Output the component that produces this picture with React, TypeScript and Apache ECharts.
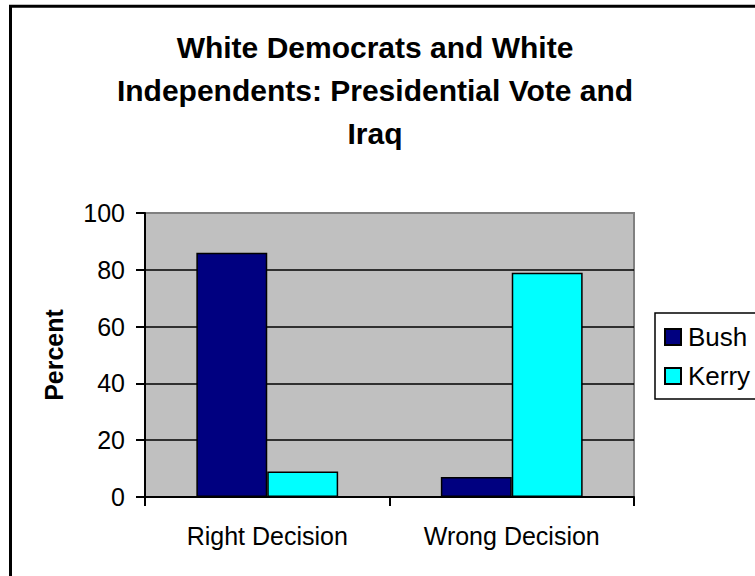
import React, { useEffect, useRef } from "react";
import * as echarts from "echarts";

const titleLines = ["White Democrats and White", "Independents: Presidential Vote and", "Iraq"];
const categories = ["Right Decision", "Wrong Decision"];
const bushValues = [86, 7];
const kerryValues = [9, 79];
const yTicks = { min: 0, max: 100, interval: 20 };
const yAxisName = "Percent";
const seriesNames = ["Bush", "Kerry"];

const FONT = "Arial, 'Liberation Sans', sans-serif";

export default function App() {
  const ref = useRef<HTMLDivElement>(null);
  useEffect(() => {
    if (!ref.current) return;
    const chart = echarts.init(ref.current, undefined, { renderer: "svg" });
    chart.setOption({
      animation: false,
      backgroundColor: "#ffffff",
      textStyle: { fontFamily: FONT, color: "#000" },
      graphic: [
        {
          type: "text",
          x: 375,
          y: 26,
          style: {
            text: titleLines.join("\n"),
            textAlign: "center",
            textVerticalAlign: "top",
            fontFamily: FONT,
            fontSize: 30,
            fontWeight: "bold",
            lineHeight: 43,
            fill: "#000",
          },
          silent: true,
        },
        {
          type: "rect",
          shape: { x: 10.5, y: 6.2, width: 900, height: 700 },
          style: { fill: "none", stroke: "#000", lineWidth: 3 },
          z: 100,
          silent: true,
        },
      ],
      legend: {
        orient: "vertical",
        left: 655,
        top: 313,
        padding: [11, 10, 10, 9],
        itemGap: 13,
        itemWidth: 16,
        itemHeight: 16,
        icon: "rect",
        borderColor: "#000",
        borderWidth: 1.5,
        backgroundColor: "#fff",
        textStyle: { fontFamily: FONT, fontSize: 26, color: "#000", lineHeight: 25, padding: [0, 0, 0, 2] },
        data: seriesNames,
      },
      grid: {
        left: 145,
        right: 121,
        top: 213,
        bottom: 79,
        show: true,
        backgroundColor: "#c0c0c0",
        borderColor: "#808080",
        borderWidth: 2,
      },
      xAxis: {
        type: "category",
        data: categories,
        axisLine: { show: true, lineStyle: { color: "#000", width: 2 } },
        axisTick: { show: true, length: 9, lineStyle: { color: "#000", width: 2 } },
        axisLabel: { fontFamily: FONT, fontSize: 25, color: "#000", margin: 26 },
      },
      yAxis: {
        type: "value",
        min: yTicks.min,
        max: yTicks.max,
        interval: yTicks.interval,
        name: yAxisName,
        nameLocation: "middle",
        nameGap: 79,
        nameTextStyle: { fontFamily: FONT, fontSize: 25, fontWeight: "bold", color: "#000" },
        axisLine: { show: true, lineStyle: { color: "#000", width: 2 } },
        axisTick: { show: true, length: 9, lineStyle: { color: "#000", width: 2 } },
        axisLabel: { fontFamily: FONT, fontSize: 25, color: "#000", margin: 20 },
        splitLine: { show: true, showMaxLine: false, showMinLine: false, lineStyle: { color: "#000", width: 1.5 } },
      },
      series: [
        {
          name: seriesNames[0],
          type: "bar",
          data: bushValues,
          barGap: "0%",
          barCategoryGap: "42%",
          itemStyle: { color: "#000080", borderColor: "#000", borderWidth: 1.5 },
        },
        {
          name: seriesNames[1],
          type: "bar",
          data: kerryValues,
          barGap: "0%",
          barCategoryGap: "42%",
          itemStyle: { color: "#00ffff", borderColor: "#000", borderWidth: 1.5 },
        },
      ],
    });
    return () => chart.dispose();
  }, []);
  return (
    <div
      ref={ref}
      style={{ position: "fixed", left: 0, top: 0, width: 755, height: 576 }}
    />
  );
}
